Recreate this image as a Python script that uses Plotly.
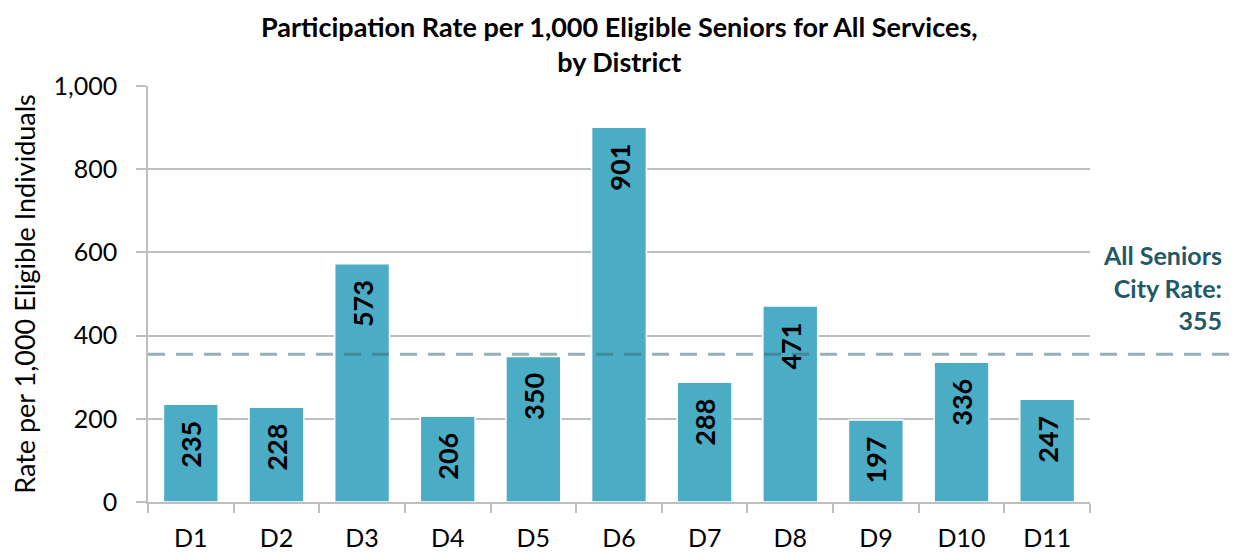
import plotly.graph_objects as go

districts = ["D1", "D2", "D3", "D4", "D5", "D6", "D7", "D8", "D9", "D10", "D11"]
rates = [235, 228, 573, 206, 350, 901, 288, 471, 197, 336, 247]
city_rate = 355
y_ticks = [0, 200, 400, 600, 800, 1000]
y_tick_labels = ["0", "200", "400", "600", "800", "1,000"]

FONT = "Lato, Carlito, 'Open Sans', sans-serif"

fig = go.Figure()
fig.add_trace(go.Bar(
    x=districts, y=rates,
    marker=dict(color="#4BACC6", line=dict(color="white", width=1.5)),
    text=[f"{v}\u2002" for v in rates],
    textposition="inside", insidetextanchor="end",
    textangle=-90,
    textfont=dict(family=FONT, size=27, color="black", weight="bold"),
    hoverinfo="x+y",
))

fig.add_shape(type="line", xref="paper", yref="y",
              x0=0, x1=1.2, y0=city_rate, y1=city_rate,
              line=dict(color="rgba(60,110,120,0.55)", width=3, dash="17px,11px"))

fig.add_annotation(xref="paper", yref="paper", x=1.142, y=0.515,
                   xanchor="right", yanchor="middle", align="right",
                   text=f"All Seniors<br>City Rate:<br>{city_rate}",
                   showarrow=False,
                   font=dict(family=FONT, size=25, color="#215967", weight="bold"))

fig.add_annotation(xref="paper", yref="paper", x=0.5, y=1.101,
                   xanchor="center", yanchor="middle", align="center",
                   text="<b>Participation Rate per 1,000 Eligible Seniors for All Services,<br>by District</b>",
                   showarrow=False,
                   font=dict(family=FONT, size=27, color="black"))

fig.update_layout(
    width=1234, height=545,
    margin=dict(l=140, r=152, t=78, b=51),
    paper_bgcolor="white", plot_bgcolor="white",
    bargap=0.36,
    showlegend=False,
    font=dict(family=FONT, size=25, color="black"),
    xaxis=dict(showline=True, linecolor="#BFBFBF", linewidth=1.5,
               ticks="outside", tickson="boundaries", ticklen=9,
               tickcolor="#BFBFBF", tickwidth=1.5, ticklabelstandoff=13,
               automargin=False,
               tickfont=dict(family=FONT, size=25), showgrid=False),
    yaxis=dict(range=[0, 1000], tickvals=y_ticks, ticktext=y_tick_labels,
               showgrid=True, gridcolor="#BFBFBF", gridwidth=1.5,
               showline=True, linecolor="#BFBFBF", linewidth=1.5,
               ticks="outside", ticklen=10, tickcolor="#BFBFBF", tickwidth=1.5,
               ticklabelstandoff=14, automargin=False,
               zeroline=False,
               tickfont=dict(family=FONT, size=25),
               title=dict(text="Rate per 1,000 Eligible Individuals",
                          font=dict(family=FONT, size=27), standoff=20)),
)

fig.write_html("out.html")
